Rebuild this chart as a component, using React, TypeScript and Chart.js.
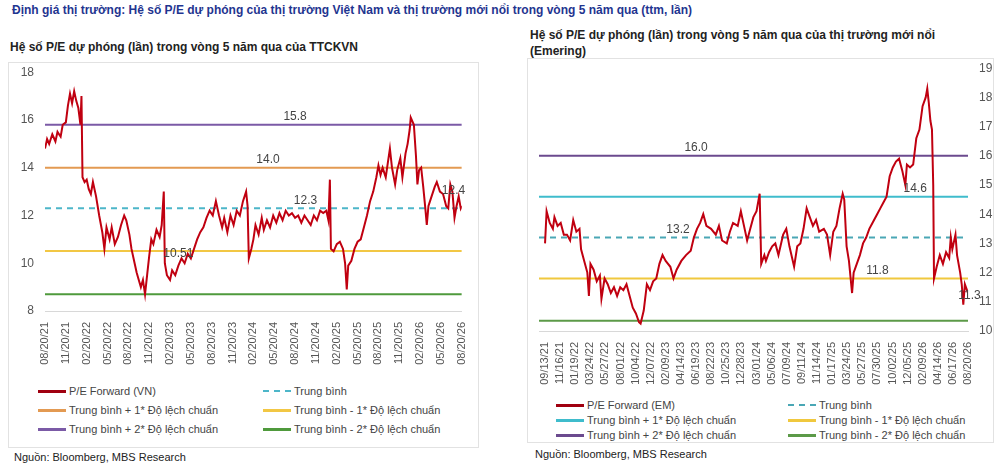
import React, { useEffect, useRef } from "react";
import { Chart, registerables } from "chart.js";
Chart.register(...registerables);

const vnTicks = ["08/20/21","11/20/21","02/20/22","05/20/22","08/20/22","11/20/22","02/20/23","05/20/23","08/20/23","11/20/23","02/20/24","05/20/24","08/20/24","11/20/24","02/20/25","05/20/25","08/20/25","11/20/25","02/20/26","05/20/26","08/20/26"];
const vnX = [0,0.1,0.2,0.35,0.5,0.6,0.75,0.85,1.0,1.1,1.2,1.3,1.4,1.5,1.6,1.7,1.75,1.8,1.9,2.0,2.1,2.2,2.3,2.45,2.6,2.75,2.85,2.95,3.1,3.2,3.35,3.5,3.65,3.8,3.9,4.05,4.15,4.3,4.4,4.5,4.6,4.7,4.8,4.9,5.0,5.1,5.2,5.35,5.5,5.6,5.7,5.75,5.85,6.0,6.1,6.25,6.4,6.55,6.7,6.85,7.0,7.15,7.3,7.45,7.6,7.75,7.9,8.05,8.2,8.35,8.5,8.6,8.75,8.9,9.05,9.2,9.35,9.5,9.65,9.72,9.78,9.9,10.0,10.1,10.25,10.4,10.5,10.65,10.8,10.95,11.1,11.25,11.4,11.55,11.7,11.85,12.0,12.15,12.3,12.45,12.6,12.75,12.9,13.05,13.2,13.35,13.5,13.6,13.67,13.72,13.85,14.0,14.15,14.3,14.4,14.48,14.55,14.7,14.85,15.0,15.15,15.3,15.45,15.6,15.75,15.9,16.0,16.1,16.2,16.35,16.45,16.55,16.65,16.8,16.9,17.05,17.15,17.3,17.4,17.5,17.55,17.7,17.8,17.87,17.95,18.05,18.15,18.25,18.32,18.4,18.55,18.7,18.8,18.95,19.1,19.25,19.35,19.45,19.55,19.65,19.75,19.85,19.95,20.0];
const vnPE = [14.8,15.2,15.0,15.4,15.1,15.5,15.3,15.8,15.9,16.6,17.1,16.7,17.2,16.8,16.5,15.8,17.0,13.6,13.4,13.5,13.1,12.9,13.4,12.8,12.0,11.3,10.6,11.5,11.0,11.5,10.8,11.1,11.6,12.0,11.8,11.2,10.6,10.0,9.6,9.3,9.0,9.3,8.7,9.5,10.3,11.0,10.8,11.4,11.1,11.6,13.0,10.0,9.5,9.3,9.7,9.5,9.9,10.2,10.0,10.4,10.2,10.6,11.0,11.3,11.5,11.9,12.2,12.0,12.6,12.0,11.5,11.9,11.3,12.0,11.6,12.2,12.0,12.6,13.0,12.4,10.2,10.6,11.0,11.6,11.2,11.9,11.4,11.8,11.5,12.0,11.7,12.1,11.8,12.2,12.0,12.1,11.9,12.0,11.7,12.0,11.8,11.6,12.0,11.8,12.2,12.1,12.2,11.8,13.5,10.6,10.5,10.8,10.9,10.6,10.0,8.9,9.9,10.1,10.6,10.9,11.0,11.5,12.0,12.6,13.0,13.6,14.1,13.7,14.0,13.6,14.2,14.8,14.0,13.3,13.9,14.4,13.6,14.6,15.0,15.6,16.1,15.8,14.5,13.3,13.9,14.0,13.2,12.3,11.6,12.4,12.8,13.2,13.4,13.0,12.9,12.4,12.3,13.3,13.0,11.9,12.4,12.8,12.3,12.4];
const vnLevels = [15.8, 14.0, 12.3, 10.51, 8.7];

const emTicks = ["09/13/21","11/16/21","01/19/22","03/24/22","05/27/22","08/01/22","10/04/22","12/07/22","02/09/23","04/14/23","06/19/23","08/22/23","10/25/23","12/28/23","03/01/24","05/06/24","07/09/24","09/11/24","11/14/24","01/17/25","03/24/25","05/27/25","07/30/25","10/02/25","12/05/25","02/09/26","04/14/26","06/17/26","08/20/26"];
const emX = [0,0.1,0.3,0.5,0.6,0.8,1.0,1.2,1.4,1.6,1.8,2.0,2.2,2.3,2.5,2.7,2.8,2.9,3.1,3.3,3.5,3.6,3.8,4.0,4.2,4.4,4.6,4.8,5.0,5.2,5.4,5.6,5.8,6.0,6.1,6.3,6.5,6.7,6.9,7.1,7.3,7.5,7.7,8.0,8.2,8.4,8.7,9.0,9.3,9.5,9.7,9.9,10.1,10.3,10.6,10.9,11.1,11.3,11.6,11.8,12.0,12.3,12.5,12.7,12.9,13.1,13.3,13.5,13.7,13.75,13.8,14.0,14.1,14.3,14.5,14.7,14.9,15.2,15.4,15.6,15.9,16.1,16.3,16.5,16.7,16.9,17.1,17.3,17.5,17.8,18.0,18.2,18.4,18.6,18.8,19.0,19.1,19.25,19.4,19.6,19.7,19.9,20.1,20.3,20.5,20.7,20.9,21.2,21.4,21.6,21.8,22.0,22.2,22.4,22.6,22.8,23.0,23.1,23.3,23.5,23.7,23.9,24.1,24.3,24.4,24.5,24.6,24.7,24.78,24.83,25.0,25.2,25.4,25.6,25.8,25.9,26.0,26.2,26.3,26.5,26.6,26.7,26.8,27.0];
const emPE = [13.0,14.1,13.7,13.5,13.9,13.6,13.7,13.3,13.3,13.1,13.8,13.4,13.5,12.8,12.4,12.0,11.2,12.3,12.1,11.7,11.9,11.1,11.8,11.6,11.3,11.5,11.2,11.5,11.4,11.6,11.2,10.8,10.6,10.3,10.25,10.7,11.6,11.4,11.7,11.8,12.3,12.6,12.4,12.2,11.8,12.1,12.4,12.6,12.75,13.2,13.5,13.7,14.0,13.6,13.5,13.3,13.6,13.1,13.0,13.4,13.7,13.6,14.1,13.6,13.1,13.5,13.9,14.1,14.7,13.5,12.3,12.6,12.4,12.7,12.9,13.0,12.6,13.3,13.5,12.9,12.2,12.9,13.0,13.5,14.2,13.9,13.6,13.8,13.4,13.5,13.3,12.6,13.4,13.6,14.2,14.7,14.5,12.9,12.4,11.3,12.0,12.3,12.6,13.0,13.2,13.5,13.7,14.0,14.2,14.4,14.6,15.3,15.6,15.8,15.9,15.5,15.0,15.7,15.6,15.7,16.6,16.9,17.7,18.0,18.3,17.8,17.2,16.9,15.0,11.8,12.2,12.6,12.3,12.7,12.5,13.2,12.8,13.3,12.6,12.0,11.6,10.9,11.6,11.3];
const emLevels = [16.0, 14.6, 13.2, 11.8, 10.35];

const FONT = "Arial, 'Liberation Sans', sans-serif";

const labelPlugin = {
  id: "valueLabels",
  afterDatasetsDraw(chart: any, _a: any, opts: any) {
    const ctx = chart.ctx;
    const xs = chart.scales.x, ys = chart.scales.y;
    ctx.save();
    ctx.font = `12px ${FONT}`;
    ctx.fillStyle = "#444";
    ctx.textAlign = "center";
    ctx.textBaseline = "bottom";
    (opts.items || []).forEach((it: any) => {
      ctx.fillText(it.text, xs.getPixelForValue(it.x), ys.getPixelForValue(it.y) - 2);
    });
    ctx.restore();
  },
};

function levelSet(v: number, color: string, x0: number, x1: number, dash = false) {
  return {
    data: [{ x: x0, y: v }, { x: x1, y: v }],
    borderColor: color, borderWidth: 2, pointRadius: 0,
    borderDash: dash ? [6, 5] : [], order: 2,
  };
}

function makeConfig(xs: number[], ys: number[], ticks: string[], levels: number[], colors: string[], xmin: number, xmax: number, ymin: number, ymax: number, right: boolean, items: any[], padding: any, yw: number) {
  const datasets: any[] = [
    { data: xs.map((x, i) => ({ x, y: ys[i] })), borderColor: "#c00010", borderWidth: 2, pointRadius: 0, order: 1 },
    ...levels.map((v, i) => levelSet(v, colors[i], right ? xmin : 0, right ? 28 : ticks.length - 1, i === 2)),
  ];
  return {
    type: "line",
    data: { datasets },
    plugins: [labelPlugin],
    options: {
      animation: false, responsive: false, parsing: true,
      layout: { padding },
      plugins: { legend: { display: false }, tooltip: { enabled: false }, valueLabels: { items } },
      scales: {
        x: {
          type: "linear", min: xmin, max: xmax,
          grid: { display: false, drawTicks: true },
          border: { color: "#d8d8d8" },
          afterBuildTicks(s: any) { s.ticks = ticks.map((_, i) => ({ value: i })); },
          afterFit(s: any) { s.height = 62; },
          ticks: {
            autoSkip: false, maxRotation: 90, minRotation: 90, color: "#555",
            font: { size: 11, family: FONT },
            callback: (v: number) => ticks[Math.round(v)] ?? "",
          },
        },
        y: {
          position: right ? "right" : "left", min: ymin, max: ymax,
          grid: { display: false },
          border: { display: false },
          afterFit(s: any) { s.width = yw; },
          ticks: { stepSize: right ? 1 : 2, color: "#555", font: { size: 12, family: FONT } },
        },
      },
    },
  };
}

function ChartCanvas({ cfg, style, w, h }: any) {
  const ref = useRef<HTMLCanvasElement>(null);
  useEffect(() => {
    const c = new Chart(ref.current as any, cfg());
    return () => c.destroy();
  }, []);
  return <canvas ref={ref} width={w} height={h} style={{ position: "absolute", width: w, height: h, ...style }} />;
}

const legendRow = (items: { text: string; color: string; dash?: boolean }[], left: number, top: number, col2: number, gap: number) =>
  items.map((it, i) => {
    const col = i % 2, row = Math.floor(i / 2);
    return (
      <div key={i} style={{ position: "absolute", left: left + col * col2, top: top + row * gap, display: "flex", alignItems: "center", fontSize: 11, color: "#444", fontFamily: FONT, whiteSpace: "nowrap" }}>
        <span style={{ display: "inline-block", width: 28, height: 0, borderTop: `${it.dash ? 2 : 3}px ${it.dash ? "dashed" : "solid"} ${it.color}`, marginRight: 3 }} />
        {it.text}
      </div>
    );
  });

export default function App() {
  const vnColors = ["#7b5aa6", "#e39a52", "#4db6c9", "#f2c744", "#4f9a3c"];
  const emColors = ["#6b4a8e", "#3fbccc", "#4aa7b5", "#f0c83e", "#5c9a48"];
  const vnLegend = [
    { text: "P/E Forward (VN)", color: "#a00010" }, { text: "Trung bình", color: vnColors[2], dash: true },
    { text: "Trung bình + 1* Độ lệch chuẩn", color: vnColors[1] }, { text: "Trung bình - 1* Độ lệch chuẩn", color: vnColors[3] },
    { text: "Trung bình + 2* Độ lệch chuẩn", color: vnColors[0] }, { text: "Trung bình - 2* Độ lệch chuẩn", color: vnColors[4] },
  ];
  const emLegend = [
    { text: "P/E Forward (EM)", color: "#a00010" }, { text: "Trung bình", color: emColors[2], dash: true },
    { text: "Trung bình + 1* Độ lệch chuẩn", color: emColors[1] }, { text: "Trung bình - 1* Độ lệch chuẩn", color: emColors[3] },
    { text: "Trung bình + 2* Độ lệch chuẩn", color: emColors[0] }, { text: "Trung bình - 2* Độ lệch chuẩn", color: emColors[4] },
  ];
  const emXs = emX.map((t) => (t * 28) / 27);
  return (
    <div style={{ position: "absolute", left: 0, top: 0, width: 1000, height: 466, background: "#fff", fontFamily: FONT, overflow: "hidden" }}>
      <div style={{ position: "absolute", left: 12, top: 3, fontSize: 12, fontWeight: "bold", color: "#1f3590" }}>
        Định giá thị trường: Hệ số P/E dự phóng của thị trường Việt Nam và thị trường mới nổi trong vòng 5 năm qua (ttm, lần)
      </div>
      <div style={{ position: "absolute", left: 10, top: 40, fontSize: 12, fontWeight: "bold", color: "#222" }}>
        Hệ số P/E dự phóng (lần) trong vòng 5 năm qua của TTCKVN
      </div>
      <div style={{ position: "absolute", left: 530, top: 27, fontSize: 12, fontWeight: "bold", color: "#222", lineHeight: "16px" }}>
        Hệ số P/E dự phóng (lần) trong vòng 5 năm qua của thị trường mới nổi<br />(Emering)
      </div>
      <div style={{ position: "absolute", left: 8, top: 62, width: 469, height: 384, border: "1px solid #e2e2e2" }} />
      <div style={{ position: "absolute", left: 527, top: 58, width: 465, height: 383, border: "1px solid #e2e2e2" }} />
      <ChartCanvas w={470} h={311} style={{ left: 8, top: 62 }}
        cfg={() => makeConfig(vnX, vnPE, vnTicks, vnLevels, vnColors, 0, 20, 8, 18, false,
          [{ x: 12, y: 15.8, text: "15.8" }, { x: 10.7, y: 14.0, text: "14.0" }, { x: 12.5, y: 12.3, text: "12.3" }, { x: 6.4, y: 10.05, text: "10.51" }, { x: 19.6, y: 12.7, text: "12.4" }],
          { left: 7, right: 13, top: 9, bottom: 0 }, 30)} />
      <ChartCanvas w={466} h={335} style={{ left: 527, top: 58 }}
        cfg={() => makeConfig(emXs, emPE, emTicks, emLevels, emColors, -0.4, 28, 10, 19, true,
          [{ x: 10, y: 16.0, text: "16.0" }, { x: 24.5, y: 14.6, text: "14.6" }, { x: 8.8, y: 13.2, text: "13.2" }, { x: 22, y: 11.8, text: "11.8" }, { x: 28.1, y: 10.95, text: "11.3" }],
          { left: 12, right: 0, top: 9, bottom: 0 }, 25)} />
      {legendRow(vnLegend, 38, 385, 225, 19)}
      {legendRow(emLegend, 556, 399, 232, 15)}
      <div style={{ position: "absolute", left: 14, top: 451, fontSize: 11, color: "#222" }}>Nguồn: Bloomberg, MBS Research</div>
      <div style={{ position: "absolute", left: 535, top: 448, fontSize: 11, color: "#222" }}>Nguồn: Bloomberg, MBS Research</div>
    </div>
  );
}
